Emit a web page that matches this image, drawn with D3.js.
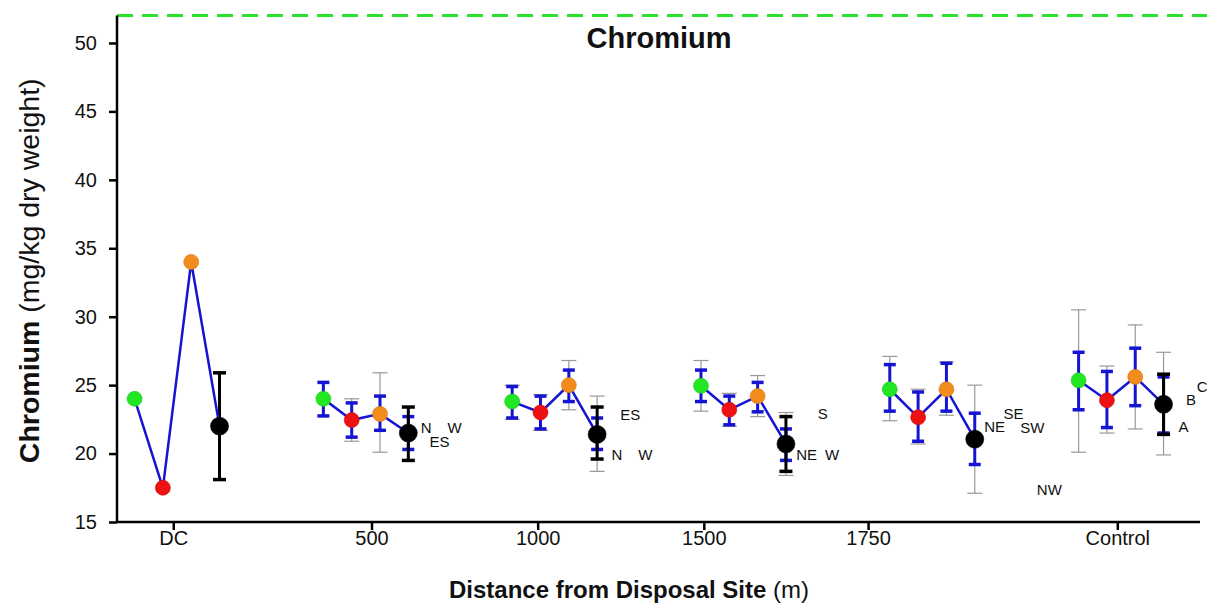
<!DOCTYPE html>
<html>
<head>
<meta charset="utf-8">
<script src="https://cdn.jsdelivr.net/npm/d3@7"></script>
<style>
  html, body { margin: 0; padding: 0; background: #fff; }
  svg { display: block; font-family: Arial, "Liberation Sans", sans-serif; }
</style>
</head>
<body>
<script>
// Sampling stations (x axis groups) and their tick labels
const groups = ["DC", "500", "1000", "1500", "1750", "Control"];
const tickLabels = ["DC", "500", "1000", "1500", "1750", "Control"];
const tickPositions = [-0.02, 1.03, 1.91, 2.79, 3.66, 4.98];
const yTicks = [15, 20, 25, 30, 35, 40, 45, 50];
const threshold = 52;

// Mean chromium per sampling round (one value per group)
const greenMean  = [24.0, 24.0, 23.8, 24.95, 24.7, 25.35];
const redMean    = [17.5, 22.45, 23.0, 23.2, 22.65, 23.9];
const orangeMean = [34.0, 22.9, 25.0, 24.2, 24.7, 25.6];
const blackMean  = [22.0, 21.5, 21.4, 20.7, 21.05, 23.6];

// Blue error bars [low, high]
const greenBlue  = [null, [22.75, 25.2], [22.6, 24.9], [23.8, 26.1], [23.1, 26.5], [23.2, 27.4]];
const redBlue    = [null, [21.2, 23.7], [21.8, 24.2], [22.1, 24.2], [20.9, 24.5], [21.9, 26.0]];
const orangeBlue = [null, [21.7, 24.2], [23.8, 26.1], [23.05, 25.2], [23.1, 26.6], [23.5, 27.7]];
const blackBlue  = [null, [20.3, 22.7], [20.3, 22.6], [19.5, 21.8], [19.2, 22.95], [21.5, 25.6]];

// Grey range bars [low, high]
const greenGrey  = [null, null, [22.5, 25.0], [23.1, 26.8], [22.4, 27.1], [20.1, 30.5]];
const redGrey    = [null, [20.9, 24.0], [21.7, 24.3], [22.0, 24.4], [20.7, 24.7], [21.5, 26.4]];
const orangeGrey = [null, [20.1, 25.9], [23.2, 26.8], [22.7, 25.7], [22.8, 26.7], [21.8, 29.4]];
const blackGrey  = [null, null, [18.7, 24.2], [18.4, 23.0], [17.1, 25.0], [19.9, 27.4]];

// Black bars on the composite point [low, high]
const blackBar   = [[18.1, 25.9], [19.5, 23.4], [19.6, 23.4], [18.7, 22.7], null, [21.4, 25.8]];

// Direction letters beside the groups: [x position (group units), value, text]
const noteX    = [1.32, 1.39, 1.47, 2.40, 2.33, 2.48, 3.42, 3.335, 3.47, 4.33, 4.43, 4.53, 4.62, 5.43, 5.37, 5.33];
const noteY    = [21.9, 20.86, 21.9, 22.88, 19.9, 19.9, 22.93, 19.9, 19.9, 21.96, 22.96, 21.93, 17.34, 24.88, 23.96, 21.96];
const noteText = ["N", "ES", "W", "ES", "N", "W", "S", "NE", "W", "NE", "SE", "SW", "NW", "C", "B", "A"];

const W = 1207, H = 605;
const svg = d3.select("body").append("svg").attr("width", W).attr("height", H);

const x = d3.scaleLinear().domain([-0.318, 5.418]).range([117, 1200]);
const y = d3.scaleLinear().domain([15, threshold]).range([522, 15.6]);

const offsets = [-0.225, -0.075, 0.075, 0.225];
const series = [
  { mean: greenMean,  blue: greenBlue,  grey: greenGrey,  fill: "#22e622", r: 7.5 },
  { mean: redMean,    blue: redBlue,    grey: redGrey,    fill: "#ee1111", r: 7.5 },
  { mean: orangeMean, blue: orangeBlue, grey: orangeGrey, fill: "#f28c1c", r: 7.5 },
  { mean: blackMean,  blue: blackBlue,  grey: blackGrey,  fill: "#000000", r: 9, bar: blackBar }
];

const plot = svg.append("g");

function errBar(g, cx, lo, hi, color, width, capW, capH) {
  g.append("line").attr("x1", cx).attr("x2", cx).attr("y1", y(lo)).attr("y2", y(hi))
    .attr("stroke", color).attr("stroke-width", width);
  [lo, hi].forEach(v => {
    g.append("line").attr("x1", cx - capW / 2).attr("x2", cx + capW / 2)
      .attr("y1", y(v)).attr("y2", y(v))
      .attr("stroke", color).attr("stroke-width", capH);
  });
}

// grey range bars
series.forEach((s, si) => {
  s.grey.forEach((r, gi) => {
    if (r) errBar(plot, x(gi + offsets[si]), r[0], r[1], "#999999", 1.2, 15, 1.2);
  });
});
// blue error bars
series.forEach((s, si) => {
  s.blue.forEach((r, gi) => {
    if (r) errBar(plot, x(gi + offsets[si]), r[0], r[1], "#1414d2", 3, 12, 3.5);
  });
});
// black bars on the composite point
series[3].bar.forEach((r, gi) => {
  if (r) errBar(plot, x(gi + offsets[3]), r[0], r[1], "#000000", 3, 13, 3.5);
});

// connecting lines within each group
const line = d3.line().x(d => x(d.x)).y(d => y(d.v));
groups.forEach((g, gi) => {
  const pts = series.map((s, si) => ({ x: gi + offsets[si], v: s.mean[gi] }));
  plot.append("path").attr("d", line(pts)).attr("fill", "none")
    .attr("stroke", "#1414d2").attr("stroke-width", 2.5);
});

// points
series.forEach((s, si) => {
  plot.selectAll(null).data(s.mean).enter().append("circle")
    .attr("cx", (d, gi) => x(gi + offsets[si]))
    .attr("cy", d => y(d))
    .attr("r", s.r)
    .attr("fill", s.fill)
    .attr("stroke", si === 3 ? "#000" : d3.color(s.fill).darker(0.4))
    .attr("stroke-width", 0.6);
});

// direction letters
plot.selectAll(null).data(noteText).enter().append("text")
  .attr("x", (d, i) => x(noteX[i]))
  .attr("y", (d, i) => y(noteY[i]))
  .attr("text-anchor", "middle")
  .attr("dominant-baseline", "central")
  .attr("font-size", 15)
  .attr("fill", "#111")
  .text(d => d);

// threshold line
svg.append("line")
  .attr("x1", x.range()[0]).attr("x2", W)
  .attr("y1", y(threshold)).attr("y2", y(threshold))
  .attr("stroke", "#2ee02e").attr("stroke-width", 3)
  .attr("stroke-dasharray", "16 9");

// axes
const yAxis = d3.axisLeft(y).tickValues(yTicks).tickSize(8).tickPadding(12).tickSizeOuter(0);
const gy = svg.append("g").attr("transform", `translate(${x.range()[0]},0)`).call(yAxis);
gy.select(".domain").remove();
gy.append("line").attr("x1", 0).attr("x2", 0).attr("y1", y(threshold)).attr("y2", y(15))
  .attr("stroke", "#000").attr("stroke-width", 2.5);
gy.selectAll(".tick line").attr("stroke-width", 2.5);
gy.selectAll(".tick text").attr("font-size", 20).attr("fill", "#111")
  .style("font-family", "Arial, 'Liberation Sans', sans-serif");

const xAxis = d3.axisBottom(x).tickValues(tickPositions)
  .tickFormat((d, i) => tickLabels[i]).tickSize(8).tickPadding(1).tickSizeOuter(0);
const gx = svg.append("g").attr("transform", `translate(0,${y(15)})`).call(xAxis);
gx.select(".domain").remove();
gx.append("line").attr("x1", x.range()[0]).attr("x2", x.range()[1]).attr("y1", 0).attr("y2", 0)
  .attr("stroke", "#000").attr("stroke-width", 2.5);
gx.selectAll(".tick line").attr("stroke-width", 2.5);
gx.selectAll(".tick text").attr("font-size", 20).attr("fill", "#111")
  .style("font-family", "Arial, 'Liberation Sans', sans-serif");

// title
svg.append("text").attr("x", 659).attr("y", 48).attr("text-anchor", "middle")
  .attr("font-size", 29).attr("font-weight", "bold").attr("fill", "#111").text("Chromium");

// axis titles
const yt = svg.append("text").attr("transform", `translate(39,${(y(15) + y(threshold)) / 2 + 2}) rotate(-90)`)
  .attr("text-anchor", "middle").attr("font-size", 28.5).attr("fill", "#111");
yt.append("tspan").attr("font-weight", "bold").text("Chromium");
yt.append("tspan").text(" (mg/kg dry weight)");

const xt = svg.append("text").attr("x", 629).attr("y", 598).attr("text-anchor", "middle")
  .attr("font-size", 24).attr("fill", "#111");
xt.append("tspan").attr("font-weight", "bold").text("Distance from Disposal Site");
xt.append("tspan").text(" (m)");
</script>
</body>
</html>
